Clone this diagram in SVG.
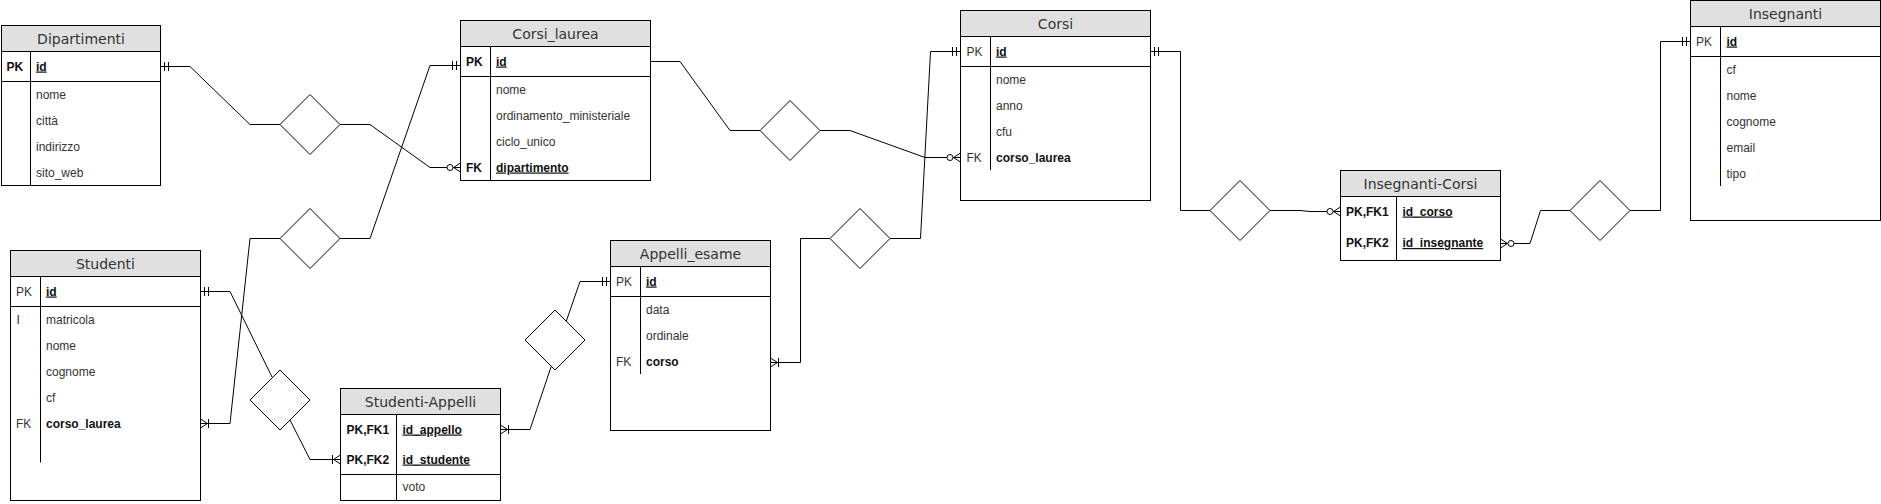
<svg xmlns="http://www.w3.org/2000/svg" width="1881" height="504" viewBox="0 0 1881 504">
<style>
.box{fill:#fff;stroke:#000;stroke-width:1}
.hd{fill:#e0e0e0;stroke:#000;stroke-width:1}
.ln{stroke:#000;stroke-width:1;fill:none}
.t{font-family:"DejaVu Sans",Verdana,sans-serif;font-size:14px;fill:#333;text-anchor:middle}
.f{font-family:"Liberation Sans",Arial,sans-serif;font-size:12px;fill:#333}
.b{font-weight:bold;fill:#111}
.u{text-decoration:underline}
.dia{fill:#fff;stroke:#000;stroke-width:1}
.edge{fill:none;stroke:#000;stroke-width:1}
</style>
<defs>
<marker id="one" markerUnits="userSpaceOnUse" orient="auto-start-reverse" markerWidth="24" markerHeight="24" viewBox="-16 -12 24 24" refX="0" refY="0" overflow="visible">
<path d="M-4,-4.5V4.5M-8,-4.5V4.5" stroke="#000" stroke-width="1" fill="none"/>
</marker>
<marker id="zeroMany" markerUnits="userSpaceOnUse" orient="auto-start-reverse" markerWidth="24" markerHeight="24" viewBox="-16 -12 24 24" refX="0" refY="0" overflow="visible">
<path d="M0,-4.5L-7,0L0,4.5M0,0H-7" stroke="#000" stroke-width="1" fill="none"/>
<circle cx="-10.5" cy="0" r="3" fill="#fff" stroke="#000" stroke-width="1"/>
</marker>
<marker id="oneMany" markerUnits="userSpaceOnUse" orient="auto-start-reverse" markerWidth="24" markerHeight="24" viewBox="-16 -12 24 24" refX="0" refY="0" overflow="visible">
<path d="M0,-4.5L-7,0L0,4.5M0,0H-7M-8,-4.5V4.5" stroke="#000" stroke-width="1" fill="none"/>
</marker>
</defs>
<rect width="1881" height="504" fill="#fff"/>

<g id="connectors">
<path class="edge" d="M160.5,66.5H190L250,124.5H280" marker-start="url(#one)"/>
<path class="edge" d="M340,124.5H370L430,167.5H460.5" marker-end="url(#zeroMany)"/>
<path class="edge" d="M200.5,423.5H230L250,238.5H280" marker-start="url(#oneMany)"/>
<path class="edge" d="M340,238.5H370L430,65.5H460.5" marker-end="url(#one)"/>
<path class="edge" d="M650.5,61.5H680L730,130.5H760"/>
<path class="edge" d="M820,130.5H850L925,157.5H960.5" marker-end="url(#zeroMany)"/>
<path class="edge" d="M770.5,362.5H800.5V238.5H830" marker-start="url(#oneMany)"/>
<path class="edge" d="M890,238.5H920.5L930.5,51.5H960.5" marker-end="url(#one)"/>
<path class="edge" d="M1150.5,51.5H1180.5V210.5H1210" marker-start="url(#one)"/>
<path class="edge" d="M1270,210.5H1300L1310,211.5H1340.5" marker-end="url(#zeroMany)"/>
<path class="edge" d="M1500.5,243.5H1530L1540.5,210.5H1570" marker-start="url(#zeroMany)"/>
<path class="edge" d="M1630,210.5H1660.5V41.5H1690.5" marker-end="url(#one)"/>
<path class="edge" d="M200.5,291.5H230L272,377" marker-start="url(#one)"/>
<path class="edge" d="M290,420L310,459.5H340.5" marker-end="url(#oneMany)"/>
<path class="edge" d="M500.5,429.5H530L551,367" marker-start="url(#oneMany)"/>
<path class="edge" d="M566,322L580,281.5H610.5" marker-end="url(#one)"/>
</g>

<g id="rel-dip-cl"><path class="dia" d="M310,94.5L340,124.5L310,154.5L280,124.5Z"/></g>
<g id="rel-stud-cl"><path class="dia" d="M310,208.5L340,238.5L310,268.5L280,238.5Z"/></g>
<g id="rel-cl-corsi"><path class="dia" d="M790,100.5L820,130.5L790,160.5L760,130.5Z"/></g>
<g id="rel-app-corsi"><path class="dia" d="M860,208.5L890,238.5L860,268.5L830,238.5Z"/></g>
<g id="rel-corsi-ic"><path class="dia" d="M1240,180.5L1270,210.5L1240,240.5L1210,210.5Z"/></g>
<g id="rel-ic-ins"><path class="dia" d="M1600,180.5L1630,210.5L1600,240.5L1570,210.5Z"/></g>
<g id="rel-stud-sa"><path class="dia" d="M280,370L310,400L280,430L250,400Z"/></g>
<g id="rel-sa-app"><path class="dia" d="M555,310L585,340L555,370L525,340Z"/></g>

<g id="Dipartimenti">
<rect class="box" x="1.5" y="25.5" width="159" height="160"/>
<rect class="hd" x="1.5" y="25.5" width="159" height="26"/>
<path class="ln" d="M1.5,81.5H160.5M30.5,51.5V185.5"/>
<text class="t" x="81" y="43.5">Dipartimenti</text>
<text class="f b" x="6.5" y="70.5">PK</text>
<text class="f b u" x="36" y="70.5">id</text>
<text class="f" x="36" y="98.5">nome</text>
<text class="f" x="36" y="124.5">città</text>
<text class="f" x="36" y="150.5">indirizzo</text>
<text class="f" x="36" y="176.5">sito_web</text>
</g>

<g id="Corsi_laurea">
<rect class="box" x="460.5" y="20.5" width="190" height="160"/>
<rect class="hd" x="460.5" y="20.5" width="190" height="26"/>
<path class="ln" d="M460.5,76.5H650.5M490.5,46.5V180.5"/>
<text class="t" x="555.5" y="38.5">Corsi_laurea</text>
<text class="f b" x="466" y="65.5">PK</text>
<text class="f b u" x="496" y="65.5">id</text>
<text class="f" x="496" y="93.5">nome</text>
<text class="f" x="496" y="119.5">ordinamento_ministeriale</text>
<text class="f" x="496" y="145.5">ciclo_unico</text>
<text class="f b" x="466" y="171.5">FK</text>
<text class="f b u" x="496" y="171.5">dipartimento</text>
</g>

<g id="Corsi">
<rect class="box" x="960.5" y="10.5" width="190" height="190"/>
<rect class="hd" x="960.5" y="10.5" width="190" height="26"/>
<path class="ln" d="M960.5,66.5H1150.5M990.5,36.5V170"/>
<text class="t" x="1055.5" y="28.5">Corsi</text>
<text class="f" x="966.5" y="55.5">PK</text>
<text class="f b u" x="996" y="55.5">id</text>
<text class="f" x="996" y="83.5">nome</text>
<text class="f" x="996" y="109.5">anno</text>
<text class="f" x="996" y="135.5">cfu</text>
<text class="f" x="966.5" y="161.5">FK</text>
<text class="f b" x="996" y="161.5">corso_laurea</text>
</g>

<g id="Insegnanti">
<rect class="box" x="1690.5" y="0.5" width="190" height="220"/>
<rect class="hd" x="1690.5" y="0.5" width="190" height="26"/>
<path class="ln" d="M1690.5,56.5H1880.5M1720.5,26.5V186"/>
<text class="t" x="1785.5" y="18.5">Insegnanti</text>
<text class="f" x="1696" y="45.5">PK</text>
<text class="f b u" x="1726.5" y="45.5">id</text>
<text class="f" x="1726.5" y="73.5">cf</text>
<text class="f" x="1726.5" y="99.5">nome</text>
<text class="f" x="1726.5" y="125.5">cognome</text>
<text class="f" x="1726.5" y="151.5">email</text>
<text class="f" x="1726.5" y="177.5">tipo</text>
</g>

<g id="Insegnanti-Corsi">
<rect class="box" x="1340.5" y="170.5" width="160" height="90"/>
<rect class="hd" x="1340.5" y="170.5" width="160" height="26"/>
<path class="ln" d="M1396.5,196.5V260.5"/>
<text class="t" x="1420.5" y="188.5">Insegnanti-Corsi</text>
<text class="f b" x="1346" y="215.5">PK,FK1</text>
<text class="f b u" x="1402.5" y="215.5">id_corso</text>
<text class="f b" x="1346" y="247">PK,FK2</text>
<text class="f b u" x="1402.5" y="247">id_insegnante</text>
</g>

<g id="Studenti">
<rect class="box" x="10.5" y="250.5" width="190" height="250"/>
<rect class="hd" x="10.5" y="250.5" width="190" height="26"/>
<path class="ln" d="M10.5,306.5H200.5M40.5,276.5V462.5"/>
<text class="t" x="105.5" y="268.5">Studenti</text>
<text class="f" x="16" y="295.5">PK</text>
<text class="f b u" x="46" y="295.5">id</text>
<text class="f" x="16.5" y="323.5">I</text>
<text class="f" x="46" y="323.5">matricola</text>
<text class="f" x="46" y="349.5">nome</text>
<text class="f" x="46" y="375.5">cognome</text>
<text class="f" x="46" y="401.5">cf</text>
<text class="f" x="16" y="427.5">FK</text>
<text class="f b" x="46" y="427.5">corso_laurea</text>
</g>

<g id="Studenti-Appelli">
<rect class="box" x="340.5" y="388.5" width="160" height="112"/>
<rect class="hd" x="340.5" y="388.5" width="160" height="26"/>
<path class="ln" d="M340.5,474.5H500.5M396.5,414.5V500.5"/>
<text class="t" x="420.5" y="406.5">Studenti-Appelli</text>
<text class="f b" x="346.5" y="433.5">PK,FK1</text>
<text class="f b u" x="402.5" y="433.5">id_appello</text>
<text class="f b" x="346.5" y="463.5">PK,FK2</text>
<text class="f b u" x="402.5" y="463.5">id_studente</text>
<text class="f" x="402.5" y="491">voto</text>
</g>

<g id="Appelli_esame">
<rect class="box" x="610.5" y="240.5" width="160" height="190"/>
<rect class="hd" x="610.5" y="240.5" width="160" height="26"/>
<path class="ln" d="M610.5,296.5H770.5M640.5,266.5V374"/>
<text class="t" x="690.5" y="258.5">Appelli_esame</text>
<text class="f" x="616" y="285.5">PK</text>
<text class="f b u" x="646" y="285.5">id</text>
<text class="f" x="646" y="313.5">data</text>
<text class="f" x="646" y="339.5">ordinale</text>
<text class="f" x="616" y="365.5">FK</text>
<text class="f b" x="646" y="365.5">corso</text>
</g>
</svg>
